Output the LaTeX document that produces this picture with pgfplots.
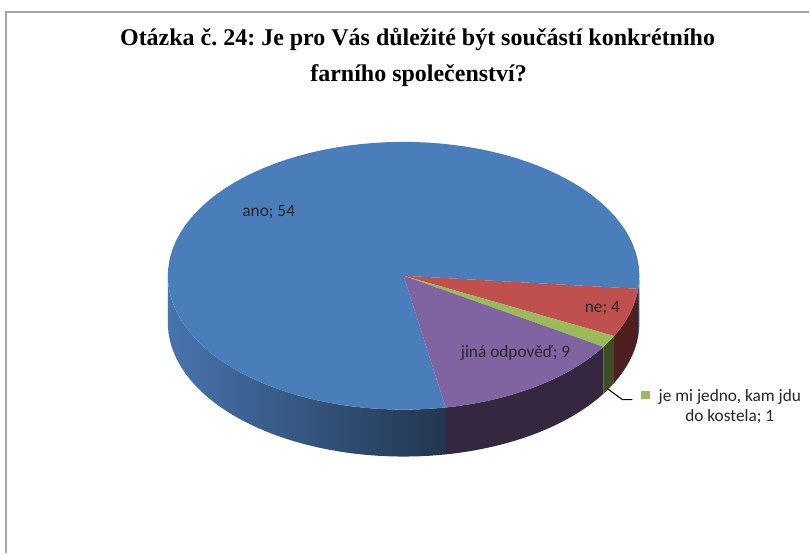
\documentclass[border=0pt]{standalone}
\usepackage{fontspec}
\setmainfont{Carlito}
\newfontfamily\titlefont{Liberation Serif}
\usepackage{pgfplots}
\usepackage{pgfplotstable}
\pgfplotsset{compat=1.18}
\frenchspacing

\definecolor{cAno}{HTML}{4A7EBB}
\definecolor{cNe}{HTML}{C0504D}
\definecolor{cJedno}{HTML}{9BBB59}
\definecolor{cJina}{HTML}{8064A2}
\definecolor{sAnoL}{HTML}{4774AE}
\definecolor{sAnoR}{HTML}{22364F}
\definecolor{sNe}{HTML}{4E1F1E}
\definecolor{sJedno}{HTML}{3C4E23}
\definecolor{sJina}{HTML}{35273F}
\definecolor{frame}{HTML}{A6A6A6}

\pgfplotstableread{
label value
ano 54
ne 4
jedno 1
jina 9
}\piedata

\pgfplotstablegetelem{0}{value}\of\piedata \let\vAno\pgfplotsretval
\pgfplotstablegetelem{1}{value}\of\piedata \let\vNe\pgfplotsretval
\pgfplotstablegetelem{2}{value}\of\piedata \let\vJedno\pgfplotsretval
\pgfplotstablegetelem{3}{value}\of\piedata \let\vJina\pgfplotsretval

\pgfmathsetmacro{\tot}{\vAno+\vNe+\vJedno+\vJina}
\pgfmathsetmacro{\tA}{-5.6}
\pgfmathsetmacro{\tB}{\tA-\vNe*360/\tot}
\pgfmathsetmacro{\tC}{\tB-\vJedno*360/\tot}
\pgfmathsetmacro{\tD}{\tC-\vJina*360/\tot}
\pgfmathsetmacro{\tE}{\tA-360}

\def\cx{404}
\def\cy{276}
\def\ra{236}
\def\rb{134}
\def\dep{47}

% top face of a slice, from angle #1 to #2
\newcommand{\topslice}[3]{%
  \addplot[fill=#3, draw=none, domain=#1:#2, samples=90, variable=\t]
    ({\cx+\ra*cos(\t)}, {\cy-\rb*sin(\t)}) -- (axis cs:\cx,\cy) -- cycle;}
% side wall of a slice, from angle #1 to #2 (bottom arc A->B, then top arc B->A)
\newcommand{\sideslice}[3]{%
  \addplot[#3, draw=none, domain=0:2.2, samples=111, variable=\s]
    ({\cx+\ra*cos((\s<=1.1) ? ((#1)+min(\s,1)*((#2)-(#1))) : ((#2)-min(max(\s-1.2,0),1)*((#2)-(#1))))},
     {\cy-\rb*sin((\s<=1.1) ? ((#1)+min(\s,1)*((#2)-(#1))) : ((#2)-min(max(\s-1.2,0),1)*((#2)-(#1)))) + ((\s<=1.1) ? \dep : 0)}) -- cycle;}

\begin{document}
\begin{tikzpicture}
\begin{axis}[
  scale only axis, width=607.5pt, height=415.5pt,
  xmin=0, xmax=810, ymin=0, ymax=554, y dir=reverse,
  hide axis, clip=false]
\fill[white] (axis cs:0,0) rectangle (axis cs:810,554);
\draw[frame, line width=1.2pt] (axis cs:6,554) -- (axis cs:6,12) -- (axis cs:810,12);

% side walls
\sideslice{-180}{\tD}{left color=sAnoL, right color=sAnoR}
\sideslice{\tD}{\tC}{fill=sJina}
\sideslice{\tC}{\tB}{fill=sJedno}
\sideslice{\tB}{\tA}{fill=sNe}
\sideslice{\tA}{0}{fill=sAnoR!60!sAnoL}

% top faces
\topslice{\tE}{\tD}{cAno}
\topslice{\tB}{\tA}{cNe}
\topslice{\tC}{\tB}{cJedno}
\topslice{\tD}{\tC}{cJina}

% title
\node[anchor=base, font=\titlefont\bfseries\fontsize{18pt}{22pt}\selectfont]
  at (axis cs:418,46) {Otázka č. 24: Je pro Vás důležité být součástí konkrétního};
\node[anchor=base, font=\titlefont\bfseries\fontsize{18pt}{22pt}\selectfont]
  at (axis cs:419,82) {farního společenství?};

% data labels
\node[anchor=base, font=\fontsize{13pt}{15pt}\selectfont, text=black!85]
  at (axis cs:269,217) {ano; 54};
\node[anchor=base, font=\fontsize{13pt}{15pt}\selectfont, text=black!85]
  at (axis cs:603,313) {ne; 4};
\node[anchor=base, font=\fontsize{13pt}{15pt}\selectfont, text=black!85]
  at (axis cs:516,358) {jiná odpověď; 9};

% leader and label for small slice
\draw[black, line width=0.8pt] (axis cs:608,389) -- (axis cs:623,400) -- (axis cs:633,400);
\fill[cJedno] (axis cs:642,391) rectangle (axis cs:651,399);
\node[anchor=base west, font=\fontsize{13pt}{15pt}\selectfont, text=black!85, inner sep=0pt]
  at (axis cs:659,402) {je mi jedno, kam jdu};
\node[anchor=base, font=\fontsize{13pt}{15pt}\selectfont, text=black!85]
  at (axis cs:730.5,422) {do kostela; 1};
\end{axis}
\end{tikzpicture}
\end{document}
